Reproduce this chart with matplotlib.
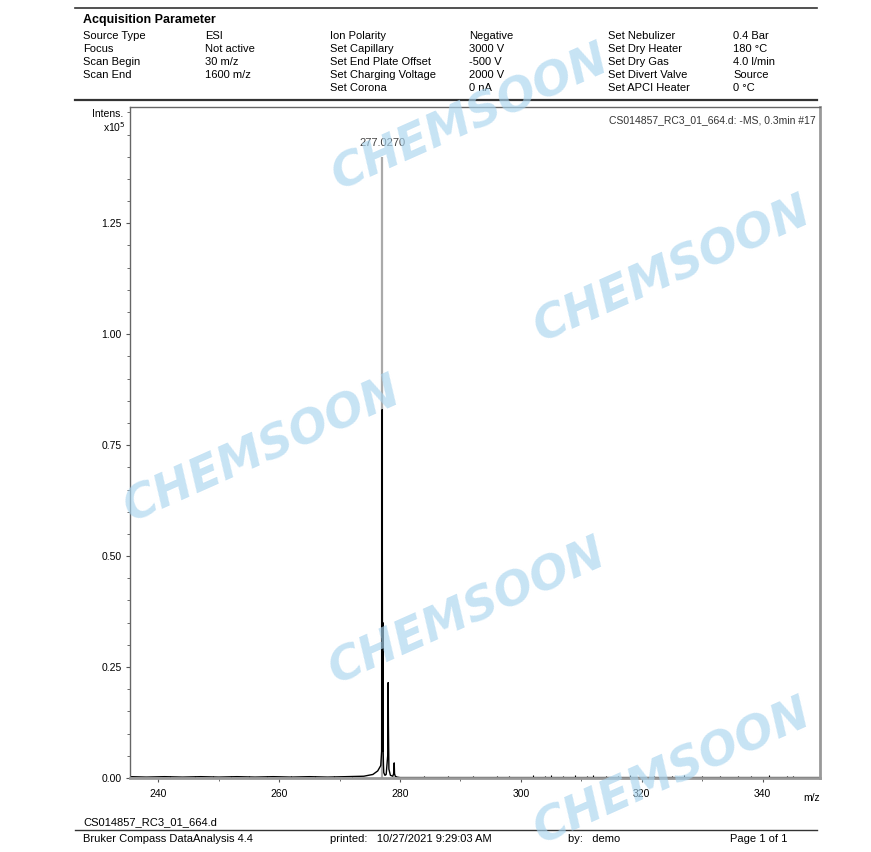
import matplotlib.pyplot as plt
from matplotlib.ticker import MultipleLocator, FixedLocator

plt.rcParams['font.family'] = ['Liberation Sans', 'DejaVu Sans']

# Acquisition parameters (label, value) per column pair
params_left = [("Source Type", "ESI"), ("Focus", "Not active"),
               ("Scan Begin", "30 m/z"), ("Scan End", "1600 m/z")]
params_mid = [("Ion Polarity", "Negative"), ("Set Capillary", "3000 V"),
              ("Set End Plate Offset", "-500 V"), ("Set Charging Voltage", "2000 V"),
              ("Set Corona", "0 nA")]
params_right = [("Set Nebulizer", "0.4 Bar"), ("Set Dry Heater", "180 \u00b0C"),
                ("Set Dry Gas", "4.0 l/min"), ("Set Divert Valve", "Source"),
                ("Set APCI Heater", "0 \u00b0C")]

# Profile spectrum (m/z, intensity x10^5)
profile_mz = [235.3, 238, 241, 244, 247, 250, 253, 256, 259, 262, 265, 268, 271, 274,
              275.5, 276.3, 276.8, 276.95, 277.0, 277.03, 277.06, 277.1, 277.15, 277.2,
              277.25, 277.3, 277.5, 277.7, 277.95, 278.0, 278.03, 278.07, 278.15, 278.4,
              278.8, 278.98, 279.03, 279.08, 279.2, 279.5, 280, 290, 300, 310, 320, 330, 340, 349.5]
profile_int = [0.003, 0.002, 0.003, 0.002, 0.003, 0.002, 0.003, 0.002, 0.003, 0.002,
               0.003, 0.002, 0.003, 0.004,
               0.008, 0.016, 0.028, 0.06, 0.5, 0.83, 0.5, 0.06, 0.35, 0.06,
               0.03, 0.012, 0.006, 0.008, 0.05, 0.15, 0.215, 0.12, 0.02, 0.006,
               0.004, 0.012, 0.034, 0.01, 0.004, 0.002, 0.001, 0.001, 0.001, 0.001,
               0.001, 0.001, 0.001, 0.001]

# Labelled peak (gray stick)
peak_mz = 277.027
peak_int = 1.40
peak_label = "277.0270"

# Small noise spikes along the baseline
noise_mz = [242, 246, 249, 252, 255, 258, 262, 266, 269, 272, 284, 288, 292, 296, 298,
            302, 304, 305, 307, 309, 311, 312, 314, 316, 318, 322, 325, 327, 330,
            333, 336, 338, 341, 344, 345]
noise_int = [0.004, 0.005, 0.004, 0.005, 0.004, 0.005, 0.004, 0.005, 0.004, 0.005,
             0.004, 0.005, 0.004, 0.005, 0.004, 0.006, 0.005, 0.006, 0.005, 0.006,
             0.005, 0.006, 0.005, 0.004, 0.006, 0.005, 0.004, 0.006, 0.005,
             0.004, 0.005, 0.004, 0.006, 0.005, 0.004]

y_ticks = [0.0, 0.25, 0.5, 0.75, 1.0, 1.25]

W, H = 871, 852
fig = plt.figure(figsize=(W / 100, H / 100), dpi=100)


def fx(x):
    return x / W


def fy(y):
    return 1 - y / H


# header
fig.add_artist(plt.Line2D([fx(75), fx(817)], [fy(8), fy(8)], color="#333333", lw=1.2))
fig.add_artist(plt.Line2D([fx(75), fx(817)], [fy(100), fy(100)], color="#333333", lw=1.6))
fig.text(fx(83), fy(20), "Acquisition Parameter", fontsize=9, fontweight="bold", va="center")
cols = [(params_left, 83, 205), (params_mid, 330, 469), (params_right, 608, 733)]
for rows, xl, xv in cols:
    for i, (lab, val) in enumerate(rows):
        y = 36 + i * 13
        fig.text(fx(xl), fy(y), lab, fontsize=8, va="center")
        fig.text(fx(xv), fy(y), val, fontsize=8, va="center")

# spectrum axes
ax = fig.add_axes([fx(130), fy(778), fx(820) - fx(130), fy(107) - fy(778)])
ax.vlines(noise_mz, 0, noise_int, color="black", lw=0.8)
ax.plot(profile_mz, profile_int, color="black", lw=1.0)
ax.vlines([peak_mz], 0, [peak_int], color="#aaaaaa", lw=1.6, zorder=1)
ax.text(peak_mz, peak_int + 0.02, peak_label, fontsize=8, color="#444444",
        ha="center", va="bottom")

ax.set_xlim(235.3, 349.5)
ax.set_ylim(0, 1.512)
ax.xaxis.set_major_locator(MultipleLocator(20))
ax.xaxis.set_minor_locator(MultipleLocator(10))
ax.yaxis.set_major_locator(FixedLocator(y_ticks))
ax.yaxis.set_minor_locator(MultipleLocator(0.05))
ax.yaxis.set_major_formatter(plt.FormatStrFormatter("%.2f"))
ax.tick_params(labelsize=7.5, length=3, width=0.8, color="#555555", pad=3)
ax.tick_params(which="minor", length=2, width=0.6, color="#555555")
ax.tick_params(axis="x", pad=5)
for s in ["left", "top"]:
    ax.spines[s].set_color("#666666")
    ax.spines[s].set_linewidth(1.0)
for s in ["right", "bottom"]:
    ax.spines[s].set_color("#999999")
    ax.spines[s].set_linewidth(2.0)

ax.text(1.0, -0.022, "m/z", transform=ax.transAxes, fontsize=7.5, ha="right", va="top")
fig.text(fx(123), fy(114), "Intens.", fontsize=7.5, ha="right", va="center")
fig.text(fx(126), fy(127), "x10$^5$", fontsize=7.5, ha="right", va="center")
ax.text(0.993, 0.988, "CS014857_RC3_01_664.d: -MS, 0.3min #17", transform=ax.transAxes,
        fontsize=7.5, ha="right", va="top", color="#333333")

# footer
fig.text(fx(83), fy(822), "CS014857_RC3_01_664.d", fontsize=8, va="center")
fig.add_artist(plt.Line2D([fx(75), fx(817)], [fy(830), fy(830)], color="#333333", lw=1.0))
fig.text(fx(83), fy(839), "Bruker Compass DataAnalysis 4.4", fontsize=8, va="center")
fig.text(fx(330), fy(839), "printed:   10/27/2021 9:29:03 AM", fontsize=8, va="center")
fig.text(fx(568), fy(839), "by:   demo", fontsize=8, va="center")
fig.text(fx(730), fy(839), "Page 1 of 1", fontsize=8, va="center")

# watermark
for cx, cy in [(470, 118), (672, 270), (262, 450), (467, 612), (672, 772)]:
    fig.text(fx(cx), fy(cy), "CHEMSOON", fontsize=33, fontweight="heavy", style="italic",
             family=["DejaVu Sans"], color="#a9d5ef", alpha=0.65, rotation=24,
             ha="center", va="center", zorder=10)

fig.savefig("out.png", dpi=100, facecolor="white")
